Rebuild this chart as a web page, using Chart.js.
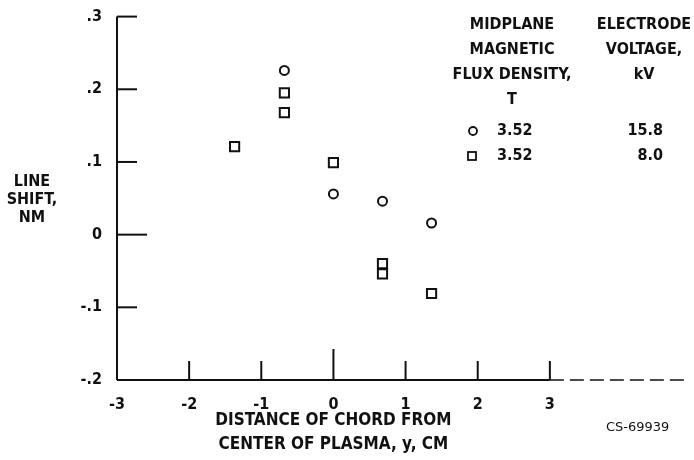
<!DOCTYPE html>
<html>
<head>
<meta charset="utf-8">
<script src="https://cdn.jsdelivr.net/npm/chart.js@4/dist/chart.umd.min.js"></script>
<style>
  html, body { margin: 0; padding: 0; background: #fff; }
</style>
</head>
<body>
<canvas id="chart" width="694" height="460"></canvas>
<script>
// ── data ──
const circleX = [-0.68, 0, 0.68, 1.36];
const circleY = [0.226, 0.056, 0.046, 0.016];
const squareX = [-1.37, -0.68, -0.68, 0, 0.68, 0.68, 1.36];
const squareY = [0.121, 0.195, 0.168, 0.099, -0.040, -0.054, -0.081];

const xTicks = [-3, -2, -1, 0, 1, 2, 3];
const yTicks = [-0.2, -0.1, 0, 0.1, 0.2, 0.3];
const yTickLabels = ['-.2', '-.1', '0', '.1', '.2', '.3'];

const yTitle = ['LINE', 'SHIFT,', 'NM'];
const xTitle = ['DISTANCE OF CHORD FROM', 'CENTER OF PLASMA, y, CM'];
const legendHeadFlux = ['MIDPLANE', 'MAGNETIC', 'FLUX DENSITY,', 'T'];
const legendHeadVolt = ['ELECTRODE', 'VOLTAGE,', 'kV'];
const fluxDensity = ['3.52', '3.52'];
const voltage = ['15.8', '8.0'];
const figId = 'CS-69939';

const FONT = '"DejaVu Sans Condensed", "DejaVu Sans", sans-serif';
const INK = '#111';

// axes, inward ticks, titles and the tabular key — drawn on top of the scales
const framePlugin = {
  id: 'frame',
  afterDraw(chart) {
    const { ctx, chartArea: a, scales: { x, y } } = chart;
    ctx.save();
    ctx.strokeStyle = INK;
    ctx.fillStyle = INK;
    ctx.lineWidth = 2;

    // y axis
    ctx.beginPath();
    ctx.moveTo(a.left, y.getPixelForValue(0.3));
    ctx.lineTo(a.left, y.getPixelForValue(-0.2));
    ctx.stroke();
    // x axis: solid up to 3, broken beyond
    const x3 = x.getPixelForValue(3);
    ctx.beginPath();
    ctx.moveTo(a.left, a.bottom);
    ctx.lineTo(x3, a.bottom);
    ctx.stroke();
    ctx.setLineDash([14, 6]);
    ctx.lineWidth = 1.5;
    ctx.beginPath();
    ctx.moveTo(x3, a.bottom);
    ctx.lineTo(a.right, a.bottom);
    ctx.stroke();
    ctx.setLineDash([]);
    ctx.lineWidth = 2;

    // ticks point into the plot, zero ones longer
    yTicks.forEach(v => {
      if (v === -0.2) return;
      const py = y.getPixelForValue(v);
      ctx.beginPath();
      ctx.moveTo(a.left, py);
      ctx.lineTo(a.left + (v === 0 ? 30 : 20), py);
      ctx.stroke();
    });
    xTicks.forEach(v => {
      if (v === -3) return;
      const px = x.getPixelForValue(v);
      ctx.beginPath();
      ctx.moveTo(px, a.bottom);
      ctx.lineTo(px, a.bottom - (v === 0 ? 31 : 19));
      ctx.stroke();
    });

    // titles
    ctx.font = 'bold 16px ' + FONT;
    ctx.textAlign = 'center';
    ctx.textBaseline = 'middle';
    yTitle.forEach((t, i) => ctx.fillText(t, 32, 182 + i * 18));
    ctx.font = 'bold 17px ' + FONT;
    const xc = x.getPixelForValue(0);
    xTitle.forEach((t, i) => ctx.fillText(t, xc, 421 + i * 24));

    // key: two header columns, then one row per series
    ctx.font = 'bold 16px ' + FONT;
    legendHeadFlux.forEach((t, i) => ctx.fillText(t, 512, 25 + i * 25));
    legendHeadVolt.forEach((t, i) => ctx.fillText(t, 644, 25 + i * 25));
    const rows = [131, 156];
    ctx.textAlign = 'left';
    fluxDensity.forEach((t, i) => ctx.fillText(t, 497, rows[i]));
    ctx.textAlign = 'right';
    voltage.forEach((t, i) => ctx.fillText(t, 663, rows[i]));

    ctx.lineWidth = 1.8;
    ctx.beginPath();
    ctx.arc(473, rows[0], 4, 0, Math.PI * 2);
    ctx.stroke();
    ctx.strokeRect(468, rows[1] - 4, 8, 8);

    ctx.font = '13px "DejaVu Sans", sans-serif';
    ctx.textAlign = 'left';
    ctx.fillText(figId, 606, 428);
    ctx.restore();
  }
};

new Chart(document.getElementById('chart'), {
  type: 'scatter',
  data: {
    datasets: [{
      label: '3.52 T, 15.8 kV',
      data: circleX.map((v, i) => ({ x: v, y: circleY[i] })),
      pointStyle: 'circle',
      pointRadius: 4.5,
      borderWidth: 2,
      borderColor: INK,
      backgroundColor: '#fff',
    }, {
      label: '3.52 T, 8.0 kV',
      data: squareX.map((v, i) => ({ x: v, y: squareY[i] })),
      pointStyle: 'rect',
      pointRadius: 6.5,
      borderWidth: 2,
      borderColor: INK,
      backgroundColor: '#fff',
    }]
  },
  options: {
    responsive: false,
    animation: false,
    layout: { padding: { top: 16, right: 0, left: 0, bottom: 0 } },
    plugins: { legend: { display: false }, tooltip: { enabled: false } },
    scales: {
      x: {
        type: 'linear', min: -3, max: 4.88,
        afterBuildTicks: s => { s.ticks = xTicks.map(v => ({ value: v })); },
        afterFit: s => { s.height = 80; },
        grid: { display: false }, border: { display: false },
        ticks: { padding: 7, color: INK, font: { family: FONT, size: 16, weight: 'bold' } }
      },
      y: {
        type: 'linear', min: -0.2, max: 0.3,
        afterBuildTicks: s => { s.ticks = yTicks.map(v => ({ value: v })); },
        afterFit: s => { s.width = 117; },
        grid: { display: false }, border: { display: false },
        ticks: {
          padding: 7, color: INK,
          font: { family: FONT, size: 16, weight: 'bold' },
          callback: (v, i) => yTickLabels[i]
        }
      }
    }
  },
  plugins: [framePlugin]
});
</script>
</body>
</html>
